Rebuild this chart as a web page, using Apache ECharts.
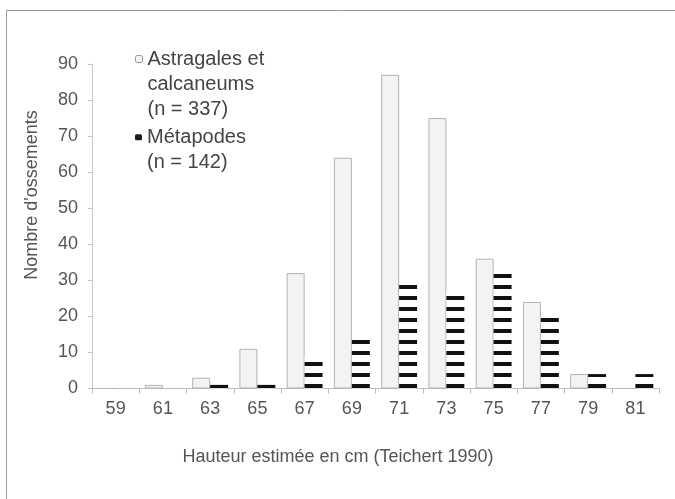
<!DOCTYPE html>
<html>
<head>
<meta charset="utf-8">
<script src="https://cdn.jsdelivr.net/npm/echarts@6/dist/echarts.min.js"></script>
<style>
  html, body { margin: 0; padding: 0; background: #fff; }
  #chart { width: 675px; height: 499px; }
</style>
</head>
<body>
<div id="chart"></div>
<script>
// Estimated height classes (cm)
const categories = ['59', '61', '63', '65', '67', '69', '71', '73', '75', '77', '79', '81'];
// Bone counts per height class
const astragales = [0, 1, 3, 11, 32, 64, 87, 75, 36, 24, 4, 0];
const metapodes = [0, 0, 1, 1, 9, 14, 29, 27, 32, 20, 4, 4];
const yTicks = { min: 0, max: 90, interval: 10 };

const nameAstr = 'Astragales et\ncalcaneums\n(n = 337)';
const nameMeta = 'Métapodes\n(n = 142)';

// Horizontal black stripes for the metapodes bars
function stripePattern() {
  const c = document.createElement('canvas');
  c.width = 4; c.height = 11;
  const ctx = c.getContext('2d');
  ctx.fillStyle = '#ffffff';
  ctx.fillRect(0, 0, 4, 11);
  ctx.fillStyle = '#111111';
  ctx.fillRect(0, 0, 4, 3);
  ctx.fillRect(0, 10, 4, 1);
  return c;
}

// Legend text is centred on its marker; leading blank lines put the
// marker beside the first line of a multi-line entry.
function firstLineAligned(name) {
  const lines = name.split('\n').length;
  return '\n'.repeat(lines - 1) + name;
}

const font = 'Liberation Sans, Arial, sans-serif';
const legendText = { fontSize: 20, lineHeight: 25, color: '#444', fontFamily: font };
const chart = echarts.init(document.getElementById('chart'), null, { renderer: 'canvas' });

chart.setOption({
  animation: false,
  backgroundColor: '#ffffff',
  textStyle: { fontFamily: font },
  grid: { left: 92, right: 16, top: 64, bottom: 110.5 },
  legend: [
    {
      data: [{ name: nameAstr, itemStyle: { color: '#f4f4f4', borderColor: '#9a9a9a', borderWidth: 1 } }],
      orient: 'vertical', left: 135, top: -3.5, padding: 0,
      itemWidth: 7, itemHeight: 7,
      formatter: firstLineAligned,
      textStyle: legendText
    },
    {
      data: [{ name: nameMeta, itemStyle: { color: '#1a1a1a', borderColor: '#1a1a1a', borderWidth: 0 } }],
      orient: 'vertical', left: 135, top: 99.8, padding: 0,
      itemWidth: 7, itemHeight: 6,
      formatter: firstLineAligned,
      textStyle: legendText
    }
  ],
  xAxis: {
    type: 'category',
    data: categories,
    axisLine: { lineStyle: { color: '#bdbdbd', width: 1 } },
    axisTick: { show: true, alignWithLabel: false, length: 5, lineStyle: { color: '#bdbdbd' } },
    axisLabel: { color: '#555', fontSize: 18, margin: 12, fontFamily: font }
  },
  yAxis: {
    type: 'value',
    min: yTicks.min, max: yTicks.max, interval: yTicks.interval,
    axisLine: { show: true, lineStyle: { color: '#c8c8c8', width: 1 } },
    axisTick: { show: true, length: 4, lineStyle: { color: '#c8c8c8' } },
    splitLine: { show: false },
    axisLabel: { color: '#555', fontSize: 18, margin: 14, fontFamily: font }
  },
  series: [
    {
      name: nameAstr,
      type: 'bar',
      data: astragales,
      barGap: '0%',
      barCategoryGap: '24%',
      itemStyle: { color: '#f3f3f3', borderColor: '#b2b2b2', borderWidth: 1 }
    },
    {
      name: nameMeta,
      type: 'bar',
      data: metapodes,
      barGap: '0%',
      barCategoryGap: '24%',
      itemStyle: { color: { image: stripePattern(), repeat: 'repeat' } }
    }
  ],
  graphic: [
    {
      type: 'rect', silent: true,
      shape: { x: 6.5, y: 10.5, width: 800, height: 800 },
      style: { fill: 'none', stroke: '#9a9a9a', lineWidth: 1 }
    },
    {
      type: 'text', silent: true,
      x: 338, y: 457,
      style: { text: 'Hauteur estimée en cm (Teichert 1990)', font: '18px ' + font, fill: '#555', align: 'center', verticalAlign: 'middle' }
    },
    {
      type: 'text', silent: true,
      x: 32.5, y: 195, rotation: Math.PI / 2,
      style: { text: "Nombre d'ossements", font: '18px ' + font, fill: '#555', align: 'center', verticalAlign: 'middle' }
    }
  ]
});
</script>
</body>
</html>
